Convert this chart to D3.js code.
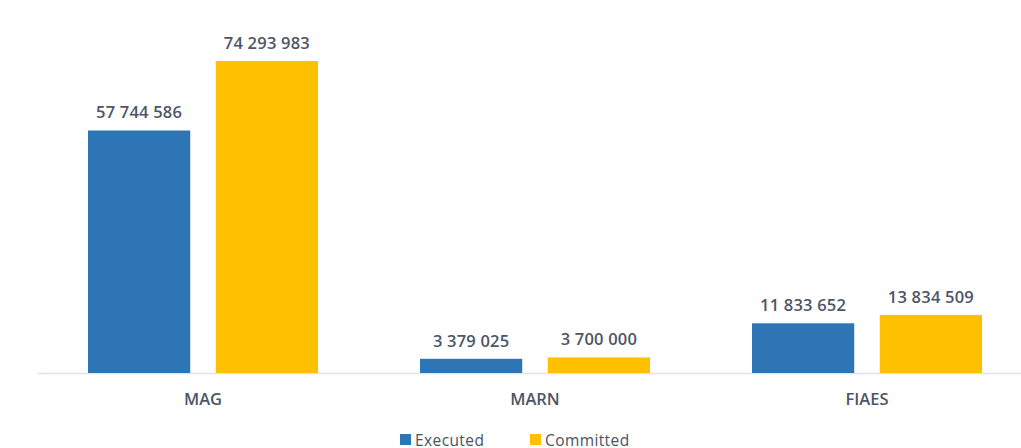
<!DOCTYPE html>
<html lang="en">
<head>
<meta charset="utf-8">
<title>Executed vs Committed</title>
<script src="https://cdn.jsdelivr.net/npm/d3@7"></script>
<style>
  html, body { margin: 0; padding: 0; background: #fff; overflow: hidden; }
  text { font-family: "Open Sans", sans-serif; }
</style>
</head>
<body>
<div id="chart"></div>
<script>
// data
var categories = ["MAG", "MARN", "FIAES"];
var seriesNames = ["Executed", "Committed"];
var executed = [57744586, 3379025, 11833652];
var committed = [74293983, 3700000, 13834509];

var colors = ["#2e75b6", "#ffc000"];

var w = 1021, h = 448;

var svg = d3.select("#chart").append("svg")
  .attr("width", w)
  .attr("height", h)
  .style("display", "block");

// clipped title from the page above the chart (only descender tips show)
svg.append("text")
  .attr("x", 2)
  .attr("y", -6)
  .attr("font-family", "Liberation Sans, Arial, sans-serif")
  .attr("font-weight", "bold")
  .attr("font-size", 24)
  .attr("fill", "#000")
  .text("Figure 6: Budget executed compared to committed funds by agency");

var x0 = d3.scaleBand()
  .domain(categories)
  .range([37, 1033])
  .paddingInner(0)
  .paddingOuter(0);

var x1 = d3.scaleBand()
  .domain(seriesNames)
  .range([0, 230])
  .paddingInner(0.2);

var y = d3.scaleLinear()
  .domain([0, 74293983])
  .range([373, 61]);

// baseline
svg.append("line")
  .attr("x1", 37).attr("x2", w)
  .attr("y1", y(0) + 0.5).attr("y2", y(0) + 0.5)
  .attr("stroke", "#dfe3ea")
  .attr("stroke-width", 1.5);

var rows = categories.map(function(c, i) {
  return { cat: c, vals: [executed[i], committed[i]] };
});

var groups = svg.selectAll("g.grp")
  .data(rows)
  .enter().append("g")
  .attr("class", "grp")
  .attr("transform", function(d) {
    return "translate(" + (x0(d.cat) + x0.bandwidth() / 2 - 115) + ",0)";
  });

groups.selectAll("rect")
  .data(function(d) { return d.vals.map(function(v, j) { return { s: seriesNames[j], v: v, j: j }; }); })
  .enter().append("rect")
  .attr("x", function(d) { return x1(d.s); })
  .attr("y", function(d) { return y(d.v); })
  .attr("width", x1.bandwidth())
  .attr("height", function(d) { return y(0) - y(d.v); })
  .attr("fill", function(d) { return colors[d.j]; });

var fmt = function(v) { return d3.format(",")(v).replace(/,/g, " "); };

groups.selectAll("text.val")
  .data(function(d) { return d.vals.map(function(v, j) { return { s: seriesNames[j], v: v }; }); })
  .enter().append("text")
  .attr("class", "val")
  .attr("x", function(d) { return x1(d.s) + x1.bandwidth() / 2; })
  .attr("y", function(d) { return y(d.v) - 12; })
  .attr("text-anchor", "middle")
  .attr("font-size", 16.5)
  .attr("font-weight", 600)
  .attr("letter-spacing", 0.2)
  .attr("fill", "#4d5566")
  .text(function(d) { return fmt(d.v); });

// category labels
svg.selectAll("text.cat")
  .data(categories)
  .enter().append("text")
  .attr("class", "cat")
  .attr("x", function(d) { return x0(d) + x0.bandwidth() / 2; })
  .attr("y", 405)
  .attr("text-anchor", "middle")
  .attr("font-size", 16.5)
  .attr("font-weight", 600)
  .attr("fill", "#4d5566")
  .text(function(d) { return d; });

// legend
var legendX = [400, 530];
var legend = svg.selectAll("g.leg")
  .data(seriesNames)
  .enter().append("g")
  .attr("class", "leg")
  .attr("transform", function(d, i) { return "translate(" + legendX[i] + ",434)"; });

legend.append("rect")
  .attr("width", 11).attr("height", 11)
  .attr("fill", function(d, i) { return colors[i]; });

legend.append("text")
  .attr("x", 15)
  .attr("y", 12)
  .attr("font-size", 15.5)
  .attr("letter-spacing", 0.4)
  .attr("fill", "#4a5263")
  .text(function(d) { return d; });
</script>
</body>
</html>
